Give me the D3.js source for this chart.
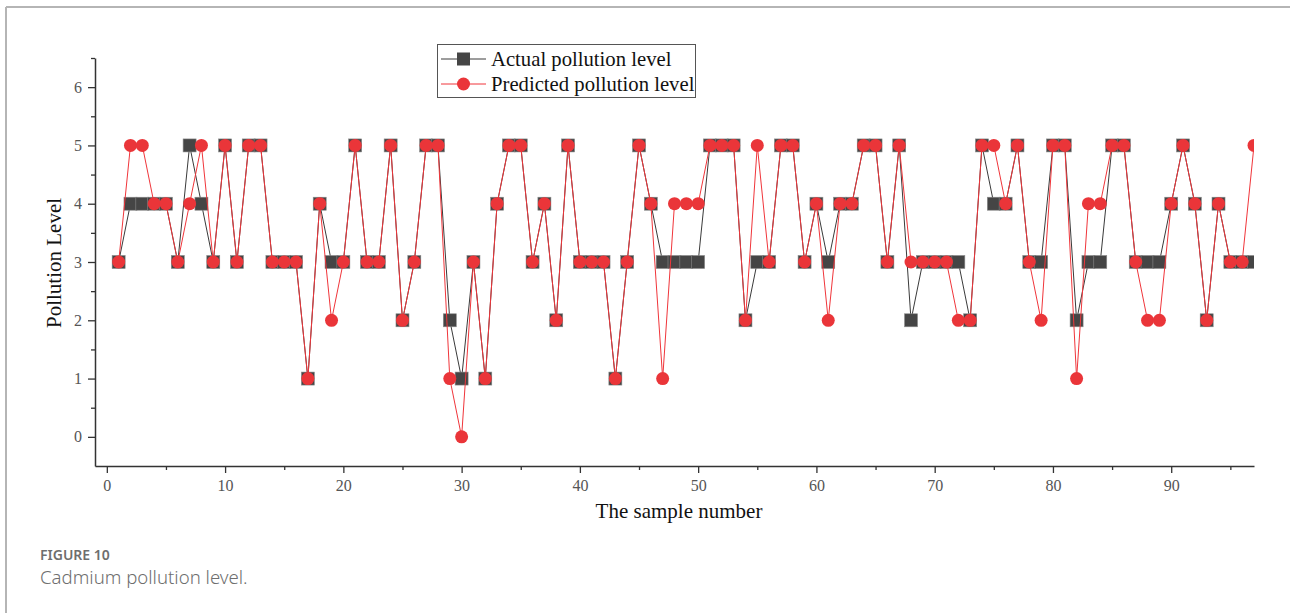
<!DOCTYPE html>
<html>
<head>
<meta charset="utf-8">
<script src="https://cdn.jsdelivr.net/npm/d3@7"></script>
<style>
  html, body { margin: 0; padding: 0; background: #fff; }
  svg { display: block; }
</style>
</head>
<body>
<svg id="chart" width="1290" height="613"></svg>
<script>
/* Data */
const samples = d3.range(1, 98);
const actual = [
  3,4,4,4,4,3,5,4,3,5, 3,5,5,3,3,3,1,4,3,3,
  5,3,3,5,2,3,5,5,2,1, 3,1,4,5,5,3,4,2,5,3,
  3,3,1,3,5,4,3,3,3,3, 5,5,5,2,3,3,5,5,3,4,
  3,4,4,5,5,3,5,2,3,3, 3,3,2,5,4,4,5,3,3,5,
  5,2,3,3,5,5,3,3,3,4, 5,4,2,4,3,3,3
];
const predicted = [
  3,5,5,4,4,3,4,5,3,5, 3,5,5,3,3,3,1,4,2,3,
  5,3,3,5,2,3,5,5,1,0, 3,1,4,5,5,3,4,2,5,3,
  3,3,1,3,5,4,1,4,4,4, 5,5,5,2,5,3,5,5,3,4,
  2,4,4,5,5,3,5,3,3,3, 3,2,2,5,5,4,5,3,2,5,
  5,1,4,4,5,5,3,2,2,4, 5,4,2,4,3,3,5
];
const xTicks = d3.range(0, 91, 10);
const xMinor = d3.range(5, 96, 10);
const yTicks = d3.range(0, 7, 1);
const yMinor = [0.5, 1.5, 2.5, 3.5, 4.5, 5.5, 6.5];
const seriesNames = ['Actual pollution level', 'Predicted pollution level'];

/* Colors */
const DARK = '#454545';
const RED = '#ea3539';
const SERIF = '"Liberation Serif", "Times New Roman", serif';

const svg = d3.select('#chart');

// page frame
svg.append('line').attr('x1', 6).attr('x2', 1290).attr('y1', 7).attr('y2', 7)
  .attr('stroke', '#b5b5b5').attr('stroke-width', 2);
svg.append('line').attr('x1', 6).attr('x2', 6).attr('y1', 7).attr('y2', 613)
  .attr('stroke', '#b5b5b5').attr('stroke-width', 2);

let plot = { left: 95, right: 1254, top: 58, bottom: 466 };

let x = d3.scaleLinear().domain([-1, 97]).range([plot.left, plot.right]);
let y = d3.scaleLinear().domain([-0.5, 6.5]).range([plot.bottom, plot.top]);

svg.append('clipPath').attr('id', 'clip')
  .append('rect')
  .attr('x', plot.left).attr('y', plot.top - 10)
  .attr('width', plot.right - plot.left).attr('height', plot.bottom - plot.top + 10);

/* Axes */
function styleAxis(g) {
  g.select('.domain').attr('stroke', '#333').attr('stroke-width', 1.5);
  g.selectAll('.tick line').attr('stroke', '#333').attr('stroke-width', 1.3);
  g.selectAll('.tick text').attr('fill', '#555')
    .style('font-family', SERIF).style('font-size', '16px');
}

let xAxis = svg.append('g')
  .attr('transform', 'translate(0,' + plot.bottom + ')')
  .call(d3.axisBottom(x).tickValues(xTicks).tickSize(7).tickSizeOuter(0).tickPadding(7)
    .tickFormat(d3.format('d')));
styleAxis(xAxis);
let xAxisMinor = svg.append('g')
  .attr('transform', 'translate(0,' + plot.bottom + ')')
  .call(d3.axisBottom(x).tickValues(xMinor).tickSize(4).tickSizeOuter(0).tickFormat(''));
styleAxis(xAxisMinor);
xAxisMinor.select('.domain').remove();

let yAxis = svg.append('g')
  .attr('transform', 'translate(' + plot.left + ',0)')
  .call(d3.axisLeft(y).tickValues(yTicks).tickSize(7).tickSizeOuter(0).tickPadding(6)
    .tickFormat(d3.format('d')));
styleAxis(yAxis);
let yAxisMinor = svg.append('g')
  .attr('transform', 'translate(' + plot.left + ',0)')
  .call(d3.axisLeft(y).tickValues(yMinor).tickSize(4).tickSizeOuter(0).tickFormat(''));
styleAxis(yAxisMinor);
yAxisMinor.select('.domain').remove();

// axis titles
svg.append('text')
  .attr('x', 679).attr('y', 518)
  .attr('text-anchor', 'middle')
  .style('font-family', SERIF).style('font-size', '21px').attr('fill', '#111')
  .text('The sample number');

svg.append('text')
  .attr('transform', 'translate(61,263) rotate(-90)')
  .attr('text-anchor', 'middle')
  .style('font-family', SERIF).style('font-size', '21px').attr('fill', '#111')
  .text('Pollution Level');

/* Series */
const plotArea = svg.append('g').attr('clip-path', 'url(#clip)');

let line = d3.line()
  .x((d, i) => x(samples[i]))
  .y(d => y(d));

plotArea.append('path')
  .datum(actual)
  .attr('d', line)
  .attr('fill', 'none')
  .attr('stroke', '#3a3a3a')
  .attr('stroke-width', 1);

plotArea.selectAll('.sq')
  .data(actual)
  .enter().append('rect')
  .attr('class', 'sq')
  .attr('x', (d, i) => x(samples[i]) - 6.5)
  .attr('y', d => y(d) - 6.5)
  .attr('width', 13).attr('height', 13)
  .attr('fill', DARK)
  .attr('stroke', '#8a8a8a').attr('stroke-width', 0.6);

plotArea.append('path')
  .datum(predicted)
  .attr('d', line)
  .attr('fill', 'none')
  .attr('stroke', '#f0353a')
  .attr('stroke-width', 1);

plotArea.selectAll('.dot')
  .data(predicted)
  .enter().append('circle')
  .attr('class', 'dot')
  .attr('cx', (d, i) => x(samples[i]))
  .attr('cy', d => y(d))
  .attr('r', 6.5)
  .attr('fill', RED);

/* Legend */
let legend = svg.append('g');
legend.append('rect')
  .attr('x', 437.5).attr('y', 44.5).attr('width', 258).attr('height', 53)
  .attr('fill', '#fff').attr('stroke', '#555').attr('stroke-width', 1);

seriesNames.forEach((name, i) => {
  let ly = 59 + i * 25;
  let col = i === 0 ? '#3a3a3a' : '#f0353a';
  legend.append('line')
    .attr('x1', 441).attr('x2', 486).attr('y1', ly).attr('y2', ly)
    .attr('stroke', col).attr('stroke-width', 1);
  if (i === 0) {
    legend.append('rect')
      .attr('x', 463.5 - 6.5).attr('y', ly - 6.5).attr('width', 13).attr('height', 13)
      .attr('fill', DARK);
  } else {
    legend.append('circle')
      .attr('cx', 463.5).attr('cy', ly).attr('r', 6.5)
      .attr('fill', RED);
  }
  legend.append('text')
    .attr('x', 491).attr('y', ly + 7)
    .style('font-family', SERIF).style('font-size', '20.7px').attr('fill', '#111')
    .text(name);
});

/* Caption */
svg.append('text')
  .attr('x', 40).attr('y', 560)
  .style('font-family', '"Noto Sans", "Open Sans", sans-serif')
  .style('font-size', '14px').style('font-weight', 600)
  .attr('fill', '#6e6e6e')
  .text('FIGURE 10');

svg.append('text')
  .attr('x', 40).attr('y', 584)
  .style('font-family', '"Noto Sans", "Open Sans", sans-serif')
  .style('font-size', '18.6px').style('font-weight', 300)
  .attr('fill', '#6e6e6e')
  .text('Cadmium pollution level.');
</script>
</body>
</html>
